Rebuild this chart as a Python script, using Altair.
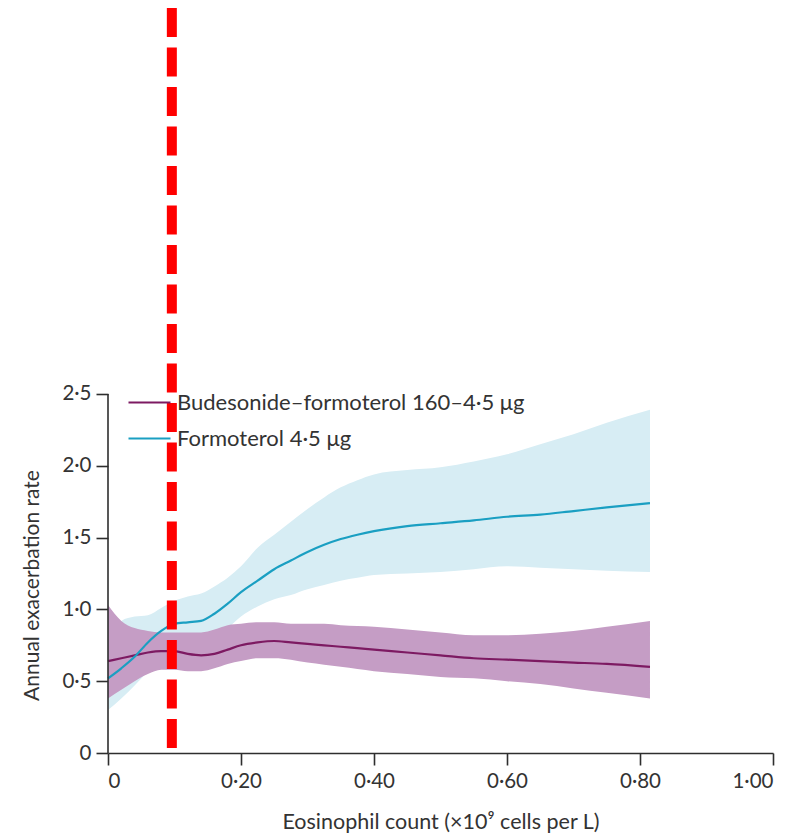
import altair as alt
import pandas as pd

# ---- data ----
x_vals = [0, 0.02, 0.04, 0.06, 0.08, 0.10, 0.12, 0.14, 0.16, 0.18, 0.20, 0.225, 0.25,
          0.275, 0.30, 0.325, 0.35, 0.375, 0.40, 0.45, 0.50, 0.55, 0.60, 0.65, 0.70, 0.75, 0.815]

form_mean = [0.52, 0.59, 0.67, 0.77, 0.85, 0.90, 0.91, 0.92, 0.97, 1.04, 1.12, 1.20, 1.28,
             1.34, 1.40, 1.45, 1.49, 1.52, 1.545, 1.58, 1.60, 1.62, 1.645, 1.66, 1.685, 1.71, 1.74]
form_hi = [0.80, 0.92, 0.95, 0.96, 1.01, 1.06, 1.09, 1.11, 1.16, 1.22, 1.30, 1.43, 1.52,
           1.61, 1.70, 1.78, 1.85, 1.90, 1.94, 1.97, 1.99, 2.03, 2.08, 2.15, 2.22, 2.30, 2.39]
form_lo = [0.30, 0.38, 0.47, 0.57, 0.66, 0.72, 0.74, 0.76, 0.80, 0.87, 0.95, 1.02, 1.07,
           1.10, 1.14, 1.17, 1.20, 1.22, 1.24, 1.25, 1.26, 1.28, 1.30, 1.29, 1.28, 1.27, 1.26]

bud_mean = [0.64, 0.66, 0.68, 0.70, 0.71, 0.71, 0.69, 0.68, 0.69, 0.72, 0.75, 0.77, 0.78,
            0.77, 0.76, 0.75, 0.74, 0.73, 0.72, 0.70, 0.68, 0.66, 0.65, 0.64, 0.63, 0.62, 0.60]
bud_hi = [1.03, 0.92, 0.87, 0.85, 0.84, 0.84, 0.84, 0.84, 0.86, 0.89, 0.90, 0.91, 0.91,
          0.90, 0.90, 0.90, 0.89, 0.885, 0.88, 0.86, 0.84, 0.82, 0.82, 0.83, 0.85, 0.88, 0.92]
bud_lo = [0.38, 0.44, 0.50, 0.55, 0.58, 0.58, 0.57, 0.57, 0.59, 0.62, 0.64, 0.66, 0.66,
          0.65, 0.63, 0.615, 0.60, 0.585, 0.57, 0.55, 0.53, 0.52, 0.50, 0.48, 0.45, 0.42, 0.38]

series_names = ["Budesonide–formoterol 160–4·5 μg", "Formoterol 4·5 μg"]
line_colors = ["#7d1a62", "#1a9fc2"]
band_colors = ["#c59dc5", "#d7edf4"]

ref_x = [0.096]
ref_y_top = [5.188]
ref_y_bottom = [0.035]

y_ticks = [0, 0.5, 1.0, 1.5, 2.0, 2.5]
x_ticks = [0, 0.2, 0.4, 0.6, 0.8, 1.0]

# ---- tables ----
form_df = pd.DataFrame({"x": x_vals, "mean": form_mean, "lo": form_lo, "hi": form_hi,
                        "group": series_names[1]})
bud_df = pd.DataFrame({"x": x_vals, "mean": bud_mean, "lo": bud_lo, "hi": bud_hi,
                       "group": series_names[0]})
lines_df = pd.concat([bud_df, form_df], ignore_index=True)

FONT = "Lato"
TXT = "#333333"
AX = "#2e2e2e"

x_scale = alt.Scale(domain=[0, 1.0], nice=False, zero=False)
y_scale = alt.Scale(domain=[0, 5.188], nice=False, zero=False)

x_axis = alt.Axis(values=x_ticks, title="Eosinophil count (×10⁹ cells per L)",
                  labelExpr="datum.value == 0 ? '0' : replace(format(datum.value, '.2f'), '.', '·')",
                  grid=False, domainColor=AX, domainWidth=1.6, tickColor=AX, tickWidth=1.6,
                  tickSize=12, labelPadding=6, labelFontSize=20.5, labelColor=TXT, labelFont=FONT,
                  titleFontSize=21.5, titleColor=TXT, titleFont=FONT, titleFontWeight="normal",
                  titlePadding=20)
y_axis = alt.Axis(values=y_ticks, title="Annual exacerbation rate",
                  labelExpr="datum.value == 0 ? '0' : replace(format(datum.value, '.1f'), '.', '·')",
                  grid=False, domain=False, tickColor=AX, tickWidth=1.6, tickSize=12,
                  labelPadding=5, labelFontSize=20.5, labelColor=TXT, labelFont=FONT,
                  titleFontSize=21, titleColor=TXT, titleFont=FONT, titleFontWeight="normal",
                  titleAngle=270, titleX=-70, titleY=577, titleAlign="center",
                  titleBaseline="alphabetic")

base_x = alt.X("x:Q", scale=x_scale, axis=x_axis)

form_band = alt.Chart(form_df).mark_area(color=band_colors[1], opacity=1,
                                          interpolate="monotone").encode(
    x=base_x, y=alt.Y("lo:Q", scale=y_scale, axis=y_axis), y2="hi:Q")
bud_band = alt.Chart(bud_df).mark_area(color=band_colors[0], opacity=1,
                                        interpolate="monotone").encode(
    x="x:Q", y="lo:Q", y2="hi:Q")

lines = alt.Chart(lines_df).mark_line(strokeWidth=2.2, interpolate="monotone").encode(
    x="x:Q", y="mean:Q",
    color=alt.Color("group:N",
                    scale=alt.Scale(domain=series_names, range=line_colors),
                    legend=alt.Legend(title=None, orient="none", legendX=19, legendY=372,
                                      symbolType="stroke", symbolSize=1764,
                                      symbolStrokeWidth=2.2, labelFontSize=22,
                                      labelFont=FONT, labelColor=TXT, labelOffset=5,
                                      rowPadding=2, labelLimit=600)),
    order=alt.Order("group:N"))

yaxis_df = pd.DataFrame({"x": [0], "y": [0], "y2": [2.5]})
yaxis_line = alt.Chart(yaxis_df).mark_rule(color=AX, strokeWidth=1.6).encode(
    x="x:Q", y="y:Q", y2="y2:Q")

ref_df = pd.DataFrame({"x": ref_x, "y": ref_y_top, "y2": ref_y_bottom})
ref_line = alt.Chart(ref_df).mark_rule(color="#ff0000", strokeWidth=10,
                                        strokeDash=[29, 10.5]).encode(
    x="x:Q", y="y:Q", y2="y2:Q")

chart = alt.layer(form_band, bud_band, lines, yaxis_line, ref_line).properties(
    width=665, height=745,
    autosize=alt.AutoSizeParams(type="none"),
    padding={"left": 100, "top": 0, "right": 21, "bottom": 80},
).configure(background="white").configure_view(strokeWidth=0)

chart.save("out.html", embed_options={"renderer": "svg", "actions": False})
